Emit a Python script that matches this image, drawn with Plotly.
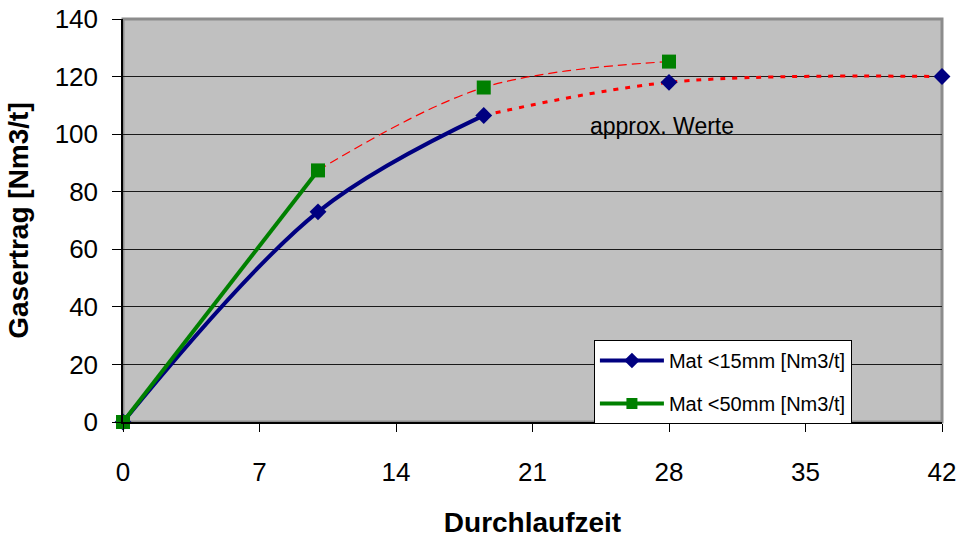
import plotly.graph_objects as go

# Durchlaufzeit in Tagen und Gasertrag je Material
days_15 = [0, 10, 18.5, 28, 42]
gas_15 = [0, 73, 106.5, 118, 120]
days_50 = [0, 10, 18.5, 28]
gas_50 = [0, 87.4, 116.2, 125.2]

# Anzahl gemessener Punkte (danach nur angenäherte Werte)
n_meas_15 = 3
n_meas_50 = 2

x_ticks = [0, 7, 14, 21, 28, 35, 42]
y_ticks = [0, 20, 40, 60, 80, 100, 120, 140]

BLUE = "#000080"
GREEN = "#008000"
RED = "#FF0000"
FONT = "Liberation Sans, Arial, sans-serif"

fig = go.Figure()

# angenäherte Fortsetzungen (rot)
fig.add_trace(go.Scatter(
    x=days_50[n_meas_50 - 1:], y=gas_50[n_meas_50 - 1:], mode="lines",
    line=dict(color=RED, width=1.2, dash="9px,5px", shape="spline"),
    showlegend=False, hoverinfo="skip"))
fig.add_trace(go.Scatter(
    x=days_15[n_meas_15 - 1:], y=gas_15[n_meas_15 - 1:], mode="lines",
    line=dict(color=RED, width=3, dash="5px,7px", shape="spline"),
    showlegend=False, hoverinfo="skip"))

# gemessene Abschnitte (durchgezogen)
fig.add_trace(go.Scatter(
    x=days_15[:n_meas_15], y=gas_15[:n_meas_15], mode="lines",
    line=dict(color=BLUE, width=4, shape="spline"),
    showlegend=False, hoverinfo="skip"))
fig.add_trace(go.Scatter(
    x=days_50[:n_meas_50], y=gas_50[:n_meas_50], mode="lines",
    line=dict(color=GREEN, width=4, shape="spline"),
    showlegend=False, hoverinfo="skip"))

# Markierungen
fig.add_trace(go.Scatter(
    x=days_15, y=gas_15, mode="markers",
    marker=dict(symbol="diamond", size=13, color=BLUE),
    cliponaxis=False, showlegend=False))
fig.add_trace(go.Scatter(
    x=days_50, y=gas_50, mode="markers",
    marker=dict(symbol="square", size=14, color=GREEN),
    cliponaxis=False, showlegend=False))

# Legendeneinträge mit Linie und Marker
fig.add_trace(go.Scatter(
    x=[None], y=[None], mode="lines+markers", name="Mat <15mm [Nm3/t]",
    legendgroup="a",
    line=dict(color=BLUE, width=4),
    marker=dict(symbol="diamond", size=12, color=BLUE)))
fig.add_trace(go.Scatter(
    x=[None], y=[None], mode="lines+markers", name="Mat <50mm [Nm3/t]",
    legendgroup="b",
    line=dict(color=GREEN, width=4),
    marker=dict(symbol="square", size=11, color=GREEN)))

fig.add_annotation(
    x=27.64, y=102.8, text="approx. Werte", showarrow=False,
    font=dict(family=FONT, size=23, color="#000000"))

# grauer Rahmen oben und rechts
fig.add_shape(type="rect", xref="paper", yref="paper", x0=0, y0=0, x1=1, y1=1,
              line=dict(color="#8C8C8C", width=3), layer="between")

fig.update_layout(
    width=958, height=538,
    margin=dict(l=123, r=16, t=19, b=116),
    paper_bgcolor="#FFFFFF",
    plot_bgcolor="#C0C0C0",
    font=dict(family=FONT, size=26, color="#000000"),
    legend=dict(
        x=0.575, y=0.2035, xanchor="left", yanchor="top",
        bgcolor="#FFFFFF", bordercolor="#000000", borderwidth=1,
        font=dict(family=FONT, size=20),
        itemwidth=64, tracegroupgap=14, traceorder="grouped"),
    xaxis=dict(
        range=[0, 42], tickvals=x_ticks, showgrid=False, zeroline=False,
        showline=True, linecolor="#000000", linewidth=1.5,
        ticks="outside", ticklen=8, tickcolor="#000000",
        tickfont=dict(size=26), ticklabelstandoff=18, automargin=False,
        title=dict(text="<b>Durchlaufzeit</b>", font=dict(size=28), standoff=26)),
    yaxis=dict(
        range=[0, 140], tickvals=y_ticks, showgrid=True, gridcolor="#1A1A1A",
        gridwidth=1, zeroline=False,
        showline=True, linecolor="#000000", linewidth=1.5,
        ticks="outside", ticklen=9, tickcolor="#000000",
        tickfont=dict(size=26), ticklabelstandoff=9, automargin=False,
        title=dict(text="<b>Gasertrag [Nm3/t]</b>", font=dict(size=28), standoff=18)),
)

fig.write_html("out.html")
